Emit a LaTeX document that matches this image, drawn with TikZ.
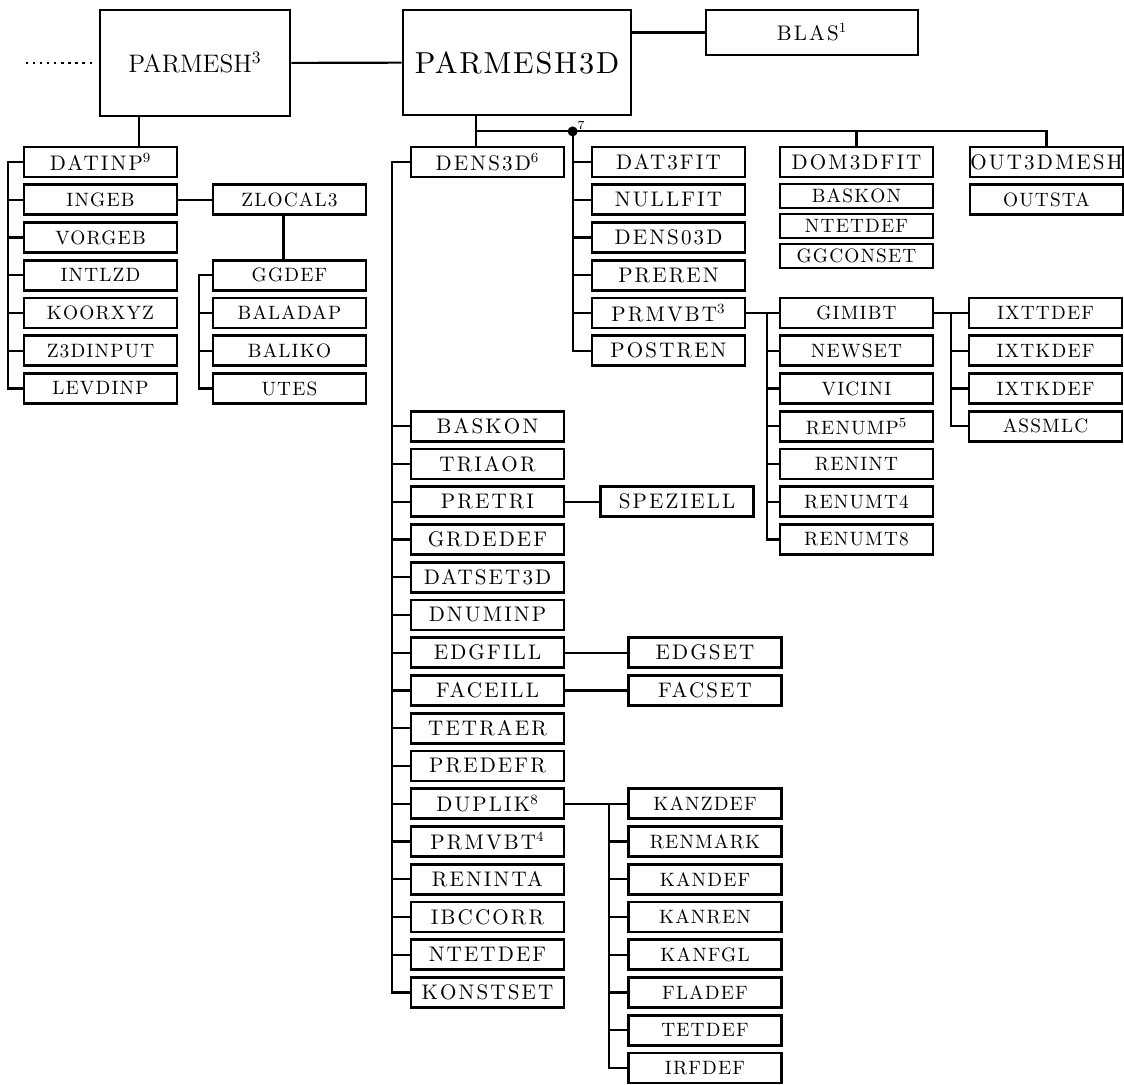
\documentclass[tikz,border=0pt]{standalone}
\usepackage{fontspec}
\usepackage{xcolor}
\definecolor{treeink}{HTML}{000000}
\newfontfamily\trackedfont{lmroman10-regular.otf}[LetterSpace=10]
\newfontfamily\looserfont{lmroman10-regular.otf}[LetterSpace=6]

\begin{document}
\begin{tikzpicture}[x=0.02cm, y=-0.02cm,
                    every node/.style={text=treeink},
                    routine/.style={draw=treeink, line width=1.6pt, inner sep=0pt,
                                    minimum width=3.06cm, minimum height=0.6cm,
                                    font=\large\trackedfont},
                    subroutine/.style={routine, font=\fontsize{11}{13}\looserfont},
                    thinroutine/.style={subroutine, minimum height=0.48cm},
                    link/.style={treeink, line width=1.2pt}]

\useasboundingbox (0,0) rectangle (1124,1084);

%% ==== 最上層: 主程式 ================================================
\node[routine, minimum width=3.8cm, minimum height=2.12cm, font=\Large]
  (parmesh) at (195,63) {PARMESH$^{3}$};
\node[routine, minimum width=4.56cm, minimum height=2.1cm, font=\LARGE\looserfont]
  (parmeshd) at (517,62.5) {PARMESH3D};
\node[routine, minimum width=4.24cm, minimum height=0.9cm]
  (blas) at (812,32.5) {BLAS$^{1}$};

\draw[link] (parmesh) -- (parmeshd);
\draw[link] (blas.west) -- (blas.west -| parmeshd.east);

%% 左邊的點線
\draw[link, dash pattern=on 1.2pt off 2.8pt] ([xshift=-0.14cm]parmesh.west) -- ++(-66,0);

%% ==== 左: PARMESH 底下的程式 =========================================
\node[routine]    (datinp)   at (100.5,162)    {DATINP$^{9}$};
\node[subroutine] (ingeb)    at (100.5,199.75) {INGEB};
\node[subroutine] (vorgeb)   at (100.5,237.5)  {VORGEB};
\node[subroutine] (intlzd)   at (100.5,275.25) {INTLZD};
\node[subroutine] (koorxyz)  at (100.5,313)    {KOORXYZ};
\node[subroutine] (zdinput)  at (100.5,350.75) {Z3DINPUT};
\node[subroutine] (levdinp)  at (100.5,388.5)  {LEVDINP};

\draw[link] ([xshift=-1.12cm]parmesh.south) -- ([xshift=-1.12cm]parmesh.south |- datinp.north);
\draw[link] (datinp.west) -- ++(-15,0) |- (levdinp.west);
\draw[link] (ingeb.west) -- ++(-15,0) (vorgeb.west) -- ++(-15,0)
            (intlzd.west) -- ++(-15,0) (koorxyz.west) -- ++(-15,0)
            (zdinput.west) -- ++(-15,0);

%% ZLOCAL3 與它的子程式
\node[subroutine] (zlocal)   at (289.5,199.75) {ZLOCAL3};
\node[subroutine] (ggdef)    at (289.5,275.25) {GGDEF};
\node[subroutine] (baladap)  at (289.5,313)    {BALADAP};
\node[subroutine] (baliko)   at (289.5,350.75) {BALIKO};
\node[subroutine] (utes)     at (289.5,388.5)  {UTES};

\draw[link] (ingeb) -- (zlocal);
\draw[link] ([xshift=-0.12cm]zlocal.south) -- ([xshift=-0.12cm]ggdef.north);
\draw[link] (ggdef.west) -- ++(-13,0) |- (utes.west);
\draw[link] (baladap.west) -- ++(-13,0) (baliko.west) -- ++(-13,0);

%% ==== 中: DENS3D 一列 ===============================================
\node[routine] (dens3d)   at (487.5,162)    {DENS3D$^{6}$};
\node[routine] (baskon)   at (487.5,426.25) {BASKON};
\node[routine] (triaor)   at (487.5,464)    {TRIAOR};
\node[routine] (pretri)   at (487.5,501.75) {PRETRI};
\node[routine] (grdedef)  at (487.5,539.5)  {GRDEDEF};
\node[routine] (datset)   at (487.5,577.25) {DATSET3D};
\node[routine] (dnuminp)  at (487.5,615)    {DNUMINP};
\node[routine] (edgfill)  at (487.5,652.75) {EDGFILL};
\node[routine] (faceill)  at (487.5,690.5)  {FACEILL};
\node[routine] (tetraer)  at (487.5,728.25) {TETRAER};
\node[routine] (predefr)  at (487.5,766)    {PREDEFR};
\node[routine] (duplik)   at (487.5,803.75) {DUPLIK$^{8}$};
\node[routine] (prmvbtb)  at (487.5,841.5)  {PRMVBT$^{4}$};
\node[routine] (reninta)  at (487.5,879.25) {RENINTA};
\node[routine] (ibccorr)  at (487.5,917)    {IBCCORR};
\node[routine] (ntetdef)  at (487.5,954.75) {NTETDEF};
\node[routine] (konstset) at (487.5,992.5)  {KONSTSET};

\draw[link] (dens3d.west) -- ++(-18,0) |- (konstset.west);
\draw[link] (baskon.west) -- ++(-18,0) (triaor.west) -- ++(-18,0)
            (pretri.west) -- ++(-18,0) (grdedef.west) -- ++(-18,0)
            (datset.west) -- ++(-18,0) (dnuminp.west) -- ++(-18,0)
            (edgfill.west) -- ++(-18,0) (faceill.west) -- ++(-18,0)
            (tetraer.west) -- ++(-18,0) (predefr.west) -- ++(-18,0)
            (duplik.west) -- ++(-18,0) (prmvbtb.west) -- ++(-18,0)
            (reninta.west) -- ++(-18,0) (ibccorr.west) -- ++(-18,0)
            (ntetdef.west) -- ++(-18,0);

%% 右邊的旁支
\node[routine] (speziell) at (677,501.75) {SPEZIELL};
\node[routine] (edgset)   at (705,652.75) {EDGSET};
\node[routine] (facset)   at (705,690.5)  {FACSET};

\draw[link] (pretri) -- (speziell);
\draw[link] (edgfill) -- (edgset);
\draw[link] (faceill) -- (facset);

%% DUPLIK 的子程式
\node[subroutine] (kanzdef) at (705,803.75)  {KANZDEF};
\node[subroutine] (renmark) at (705,841.5)   {RENMARK};
\node[subroutine] (kandef)  at (705,879.25)  {KANDEF};
\node[subroutine] (kanren)  at (705,917)     {KANREN};
\node[subroutine] (kanfgl)  at (705,954.75)  {KANFGL};
\node[subroutine] (fladef)  at (705,992.5)   {FLADEF};
\node[subroutine] (tetdef)  at (705,1030.25) {TETDEF};
\node[subroutine] (irfdef)  at (705,1068)    {IRFDEF};

\draw[link] (duplik) -- (kanzdef);
\draw[link] ([xshift=-0.36cm]kanzdef.west) |- (irfdef.west);
\draw[link] (renmark.west) -- ++(-18,0) (kandef.west) -- ++(-18,0)
            (kanren.west) -- ++(-18,0) (kanfgl.west) -- ++(-18,0)
            (fladef.west) -- ++(-18,0) (tetdef.west) -- ++(-18,0);

%% ==== PARMESH3D 底下的橫線 ==========================================
\node[routine] (dat3fit)  at (668.5,162)    {DAT3FIT};
\node[routine] (nullfit)  at (668.5,199.75) {NULLFIT};
\node[routine] (dens03d)  at (668.5,237.5)  {DENS03D};
\node[routine] (preren)   at (668.5,275.25) {PREREN};
\node[routine] (prmvbta)  at (668.5,313)    {PRMVBT$^{3}$};
\node[routine] (postren)  at (668.5,350.75) {POSTREN};

\node[routine]     (dom3dfit) at (856.5,162) {DOM3DFIT};
\node[thinroutine] (baskond)  at (856.5,196) {BASKON};
\node[thinroutine] (ntetdefd) at (856.5,226) {NTETDEF};
\node[thinroutine] (ggconset) at (856.5,256) {GGCONSET};

\node[routine]    (out3dmesh) at (1046.5,162)   {\makebox[0pt]{OUT3DMESH}};
\node[subroutine] (outsta)    at (1046.5,199.75) {OUTSTA};

\coordinate (busleft) at ([xshift=-0.82cm, yshift=-0.3cm]parmeshd.south);
\coordinate (dtrunk)  at ([xshift=-0.36cm]dat3fit.west);
\coordinate (knot)    at (busleft -| dtrunk);

\draw[link] ([xshift=-0.82cm]parmeshd.south) -- (busleft |- dens3d.north);
\draw[link] (busleft) -| (out3dmesh.north);
\draw[link] (busleft -| dom3dfit.north) -- (dom3dfit.north);

%% 分支點 7
\fill[treeink] (knot) circle (0.1cm);
\node[font=\scriptsize, inner sep=1pt, anchor=south west] (seven) at ([xshift=0.06cm]knot) {7};

\draw[link] (knot) |- (postren.west);
\draw[link] (dat3fit.west) -- (dat3fit.west -| knot) (nullfit.west) -- (nullfit.west -| knot)
            (dens03d.west) -- (dens03d.west -| knot) (preren.west) -- (preren.west -| knot)
            (prmvbta.west) -- (prmvbta.west -| knot);

%% ==== PRMVBT 的子程式 ===============================================
\node[subroutine] (gimibt)  at (856.5,313)    {GIMIBT};
\node[subroutine] (newset)  at (856.5,350.75) {NEWSET};
\node[subroutine] (vicini)  at (856.5,388.5)  {VICINI};
\node[subroutine] (renump)  at (856.5,426.25) {RENUMP$^{5}$};
\node[subroutine] (renint)  at (856.5,464)    {RENINT};
\node[subroutine] (renumtf) at (856.5,501.75) {RENUMT4};
\node[subroutine] (renumte) at (856.5,539.5)  {RENUMT8};

\draw[link] (prmvbta) -- (gimibt);
\draw[link] ([xshift=-0.24cm]gimibt.west) |- (renumte.west);
\draw[link] (newset.west) -- ++(-12,0) (vicini.west) -- ++(-12,0)
            (renump.west) -- ++(-12,0) (renint.west) -- ++(-12,0)
            (renumtf.west) -- ++(-12,0);

\node[subroutine] (ixttdef)  at (1045.5,313)    {IXTTDEF};
\node[subroutine] (ixtkdef)  at (1045.5,350.75) {IXTKDEF};
\node[subroutine] (ixtkdefb) at (1045.5,388.5)  {IXTKDEF};
\node[subroutine] (assmlc)   at (1045.5,426.25) {ASSMLC};

\draw[link] (gimibt) -- (ixttdef);
\draw[link] ([xshift=-0.34cm]ixttdef.west) |- (assmlc.west);
\draw[link] (ixtkdef.west) -- ++(-17,0) (ixtkdefb.west) -- ++(-17,0);

\end{tikzpicture}
\end{document}
